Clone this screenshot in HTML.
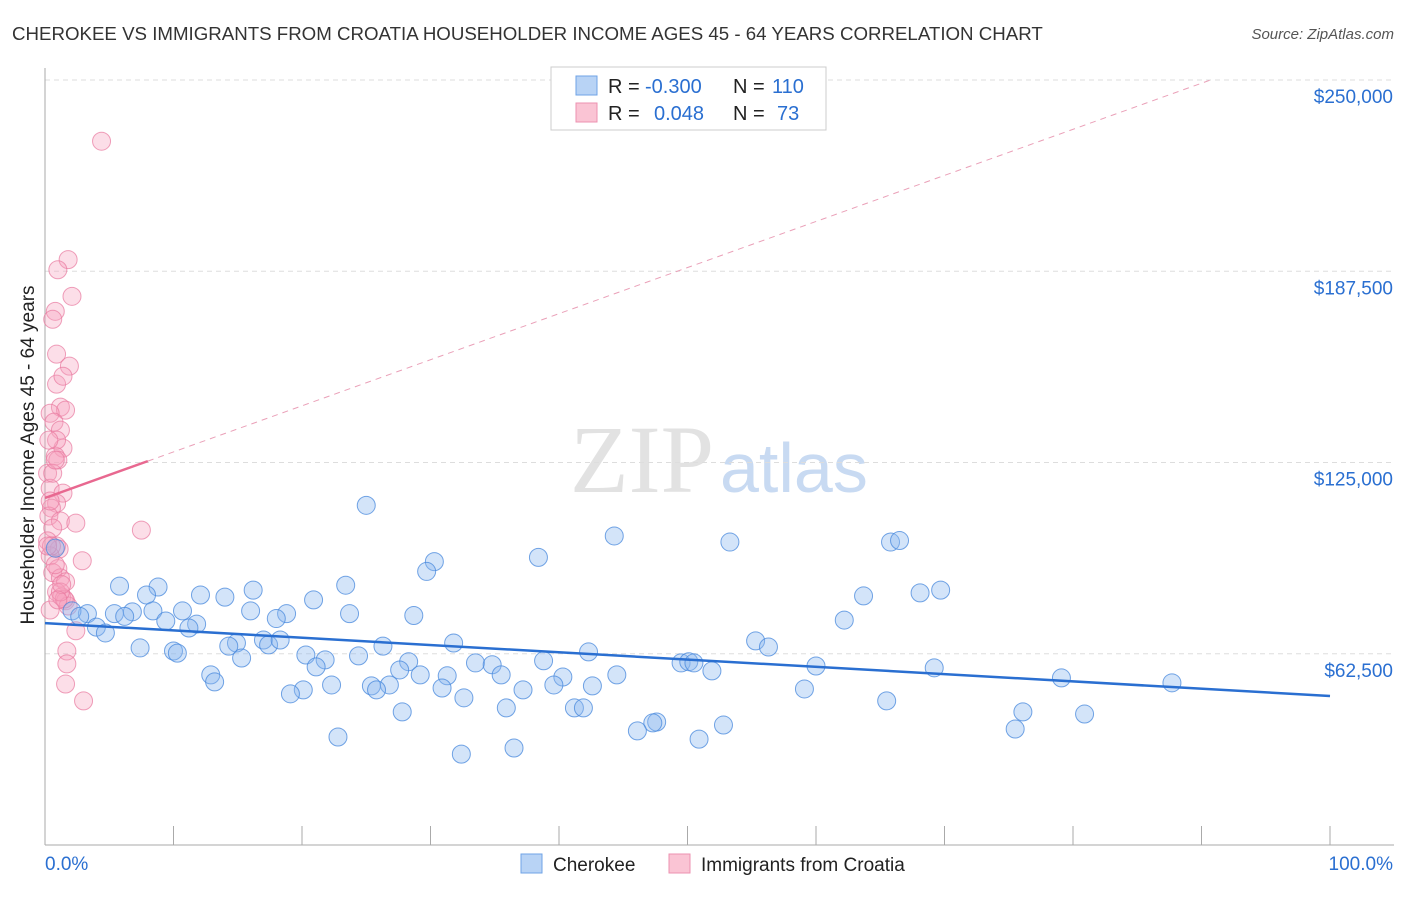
<!DOCTYPE html>
<html><head><meta charset="utf-8"><style>
body{margin:0;background:#fff;font-family:"Liberation Sans",sans-serif}
</style></head><body>
<svg id="chart" width="1406" height="892" xmlns="http://www.w3.org/2000/svg">
<text x="12" y="40" font-size="18.7" fill="#333">CHEROKEE VS IMMIGRANTS FROM CROATIA HOUSEHOLDER INCOME AGES 45 - 64 YEARS CORRELATION CHART</text>
<text x="1394" y="39" font-size="15" fill="#555" font-style="italic" text-anchor="end">Source: ZipAtlas.com</text>
<text x="714" y="492" font-size="96" fill="#e2e2e2" text-anchor="end" font-family="Liberation Serif,serif">ZIP</text>
<text x="720" y="492" font-size="70" fill="#c8daf2">atlas</text>
<g id="grid"></g><g id="axes"></g>
<g id="pink"></g><g id="blue"></g><g id="lines"></g>
<g>
<rect x="551" y="67" width="275" height="63" fill="#fff" stroke="#ccc"/>
<rect x="576" y="76" width="21" height="19" fill="#b8d3f5" stroke="#6fa3e6"/>
<rect x="576" y="103" width="21" height="19" fill="#fac4d4" stroke="#ec92b0"/>
<text x="608" y="93" font-size="20" fill="#222">R = <tspan x="645" fill="#2a6fd1">-0.300</tspan><tspan x="733">N = </tspan><tspan x="772" fill="#2a6fd1">110</tspan></text>
<text x="608" y="120" font-size="20" fill="#222">R = <tspan x="654" fill="#2a6fd1">0.048</tspan><tspan x="733">N = </tspan><tspan x="777" fill="#2a6fd1">73</tspan></text>
</g>
<g>
<rect x="521" y="854" width="21" height="19" fill="#b8d3f5" stroke="#6fa3e6"/>
<text x="553" y="871" font-size="19" fill="#222">Cherokee</text>
<rect x="669" y="854" width="21" height="19" fill="#fac4d4" stroke="#ec92b0"/>
<text x="701" y="871" font-size="19" fill="#222">Immigrants from Croatia</text>
</g>
<text transform="translate(34,455) rotate(-90)" font-size="19" fill="#222" text-anchor="middle">Householder Income Ages 45 - 64 years</text>
</svg>
<script>
const yTicks=[62500,125000,187500,250000];
const yTickLabels=["$62,500","$125,000","$187,500","$250,000"];
const xTickLabels=["0.0%","100.0%"];
// x in %, income in $k
const blueX=[25,44.3,53.3,65.8,66.5,30.3,38.4,29.7,5.8,8.8,23.4,16.2,7.9,12.1,14,69.7,68.1,63.7,20.9,5.4,6.8,8.4,10.7,16,18.8,23.7,28.7,6.2,3.3,2.1,2.7,9.4,11.8,18,11.2,62.2,4,4.7,55.3,56.3,7.4,10,10.3,14.9,14.3,17,17.4,18.3,26.3,31.8,20.3,21.8,24.4,28.3,21.1,42.3,38.8,33.5,34.8,49.5,50.1,50.5,51.9,60,69.2,79.1,87.7,12.9,13.2,15.3,27.6,29.2,31.3,35.5,40.3,44.5,22.3,25.4,26.8,30.9,25.8,39.6,42.6,20.1,19.1,37.2,59.1,32.6,65.5,27.8,35.9,41.2,41.9,47.6,47.3,52.8,76.1,80.9,75.5,46.1,50.9,22.8,36.5,32.4,0.8];
const blueY=[111,101,99,99,99.5,92.6,94,89.4,84.6,84.3,84.9,83.3,81.7,81.7,81,83.3,82.4,81.4,80.1,75.6,76.2,76.5,76.5,76.5,75.6,75.6,75,74.7,75.6,76.5,74.7,73.2,72.2,74,70.9,73.5,71.2,69.3,66.7,64.7,64.4,63.4,62.7,66,65,67,65.4,67,65,66,62.1,60.5,61.8,59.9,58.2,63.1,60.2,59.5,58.9,59.5,59.9,59.5,56.9,58.5,57.9,54.6,53,55.6,53.3,61.1,57.2,55.6,55.3,55.6,54.9,55.6,52.3,52,52.3,51.3,50.7,52.3,52,50.7,49.4,50.7,51,48.1,47.1,43.5,44.8,44.8,44.8,40.2,39.9,39.2,43.5,42.8,37.9,37.3,34.6,35.3,31.7,29.7,97];
const pinkX=[4.4,1.8,1,2.1,0.8,0.6,0.9,1.9,0.9,1.4,1.2,1.6,0.4,0.7,1.2,1.4,0.8,1,0.2,0.4,1.4,0.9,0.5,0.3,1.2,0.6,2.4,0.2,0.9,1.1,0.4,1,0.6,2.9,1.2,1.6,0.9,1.3,1.6,1.8,0.4,2.4,1.7,1.7,1.6,3,7.5,1.5,1.2,0.5,0.2,0.4,0.6,0.9,0.3,0.8,1.3,1,0.8];
const pinkY=[230,191.3,188,179.3,174.4,171.8,160.4,156.5,150.6,153.2,143.1,142.1,141.1,138.2,135.6,129.7,127.1,125.8,121.5,116.6,115,111.7,110.1,107.5,105.9,103.6,105.2,99.4,97.7,96.7,94.5,90.3,89,92.9,87.3,86,82.7,81.1,79.8,78.1,76.8,70,63.4,59.2,52.6,47.1,102.9,80.4,82.7,97.7,97.7,112.4,121.5,132.3,132.3,91.6,85.1,80.1,125.8];
const blueLine=[72.5,48.7];
const pinkLine=[113.4,250];
const pinkLineSolidEnd=8;const pinkLineDashEnd=90.7;

const NS="http://www.w3.org/2000/svg";
const X0=45,X1=1330,YB=845,YT=80;
const xs=p=>X0+(X1-X0)*p/100;
const ys=v=>YB-(YB-YT)*v/250000;
const yk=k=>ys(k*1000);
function mk(tag,attrs,parent){const e=document.createElementNS(NS,tag);for(const k in attrs)e.setAttribute(k,attrs[k]);parent.appendChild(e);return e;}
const grid=document.getElementById('grid'),axes=document.getElementById('axes');
yTicks.forEach((t,i)=>{
  const l=mk('line',{x1:X0,x2:1394,y1:ys(t),y2:ys(t),stroke:'#ddd','stroke-dasharray':'5,4'},grid);
  
  
  const tx=mk('text',{x:1393,y:ys(t)+23,'font-size':19,fill:'#2a6fd1','text-anchor':'end'},axes);
  tx.textContent=yTickLabels[i];
  
  
});
const ya=mk('line',{x1:X0,x2:X0,y1:68,y2:YB,stroke:'#aaa'},axes);


const xa=mk('line',{x1:X0,x2:1394,y1:YB,y2:YB,stroke:'#aaa'},axes);


for(let i=0;i<=10;i++){
  const t=mk('line',{x1:xs(i*10),x2:xs(i*10),y1:826,y2:YB,stroke:'#aaa'},axes);
  
  
}
xTickLabels.forEach((s,i)=>{
  const t=mk('text',{x:i?1393:45,y:870,'font-size':19,fill:'#2a6fd1','text-anchor':i?'end':'start'},axes);
  t.textContent=s;
  
  
});
const pg=document.getElementById('pink'),bg=document.getElementById('blue'),lg=document.getElementById('lines');
pinkX.forEach((x,i)=>{
  const c=mk('circle',{cx:xs(x),cy:yk(pinkY[i]),r:9,fill:'rgba(246,160,188,0.35)',stroke:'rgba(232,120,158,0.7)','stroke-width':1},pg);
  
  
});
blueX.forEach((x,i)=>{
  const c=mk('circle',{cx:xs(x),cy:yk(blueY[i]),r:9,fill:'rgba(140,185,240,0.38)',stroke:'rgba(70,135,220,0.75)','stroke-width':1},bg);
  
  
});
const bl=mk('line',{x1:xs(0),y1:yk(blueLine[0]),x2:xs(100),y2:yk(blueLine[1]),stroke:'#2a6fd1','stroke-width':2.5},lg);


const pv=p=>pinkLine[0]+(pinkLine[1]-pinkLine[0])*p/pinkLineDashEnd;
const pd=mk('line',{x1:xs(pinkLineSolidEnd),y1:yk(pv(pinkLineSolidEnd)),x2:xs(pinkLineDashEnd),y2:yk(pinkLine[1]),stroke:'#eaa0b8','stroke-width':1,'stroke-dasharray':'6,5'},lg);


const ps=mk('line',{x1:xs(0),y1:yk(pinkLine[0]),x2:xs(pinkLineSolidEnd),y2:yk(pv(pinkLineSolidEnd)),stroke:'#e86890','stroke-width':2.5},lg);


</script>
</body></html>
